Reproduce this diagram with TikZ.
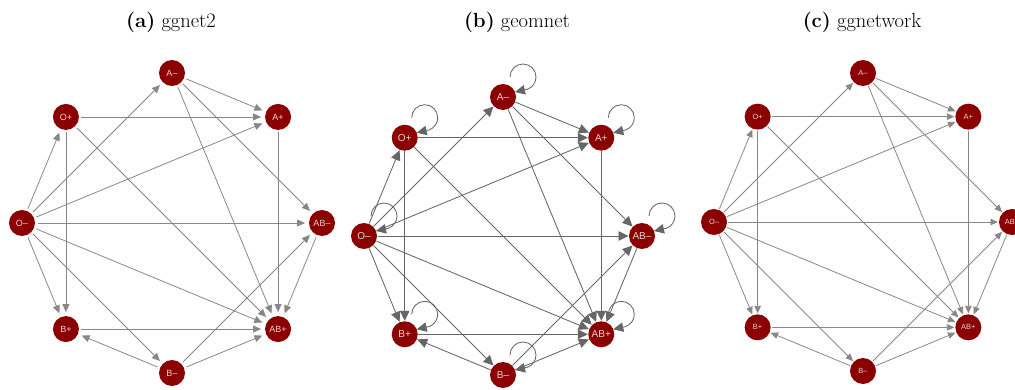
\documentclass[tikz,border=0pt]{standalone}
\usepackage{fontspec}
\newfontfamily\lsans{Liberation Sans}
\usetikzlibrary{arrows.meta,calc}
\definecolor{nodered}{RGB}{139,0,0}
\definecolor{labelc}{RGB}{235,212,212}
\definecolor{edgea}{RGB}{135,135,135}
\definecolor{edgeb}{RGB}{102,102,102}
\tikzset{
  bnode/.style={circle, fill=nodered, minimum size=26pt, inner sep=0pt, text=labelc},
  nodea/.style={bnode, outer sep=2.5pt, font=\lsans\fontsize{9}{9}\selectfont},
  nodeb/.style={bnode, outer sep=0.5pt, font=\lsans\fontsize{10}{10}\selectfont},
  nodec/.style={bnode, outer sep=1pt, font=\lsans\fontsize{7.5}{7.5}\selectfont},
  edgeastyle/.style={draw=edgea, line width=0.8pt, -{Triangle[length=8pt,width=7pt]}, shorten >=1.5pt},
  edgebstyle/.style={draw=edgeb, line width=0.85pt, -{Triangle[length=10pt,width=9.5pt]}},
  edgecstyle/.style={draw=edgea, line width=0.8pt, -{Triangle[length=7.5pt,width=6.5pt]}},
  loopbstyle/.style={draw=edgeb, line width=0.85pt, -{Triangle[length=10pt,width=9.5pt]}},
  titlestyle/.style={anchor=base, inner sep=0pt, font=\fontsize{20.5}{24}\selectfont},
}
% prefix, cx, cy, r, node style
\newcommand\bloodnodes[5]{%
  \foreach \n/\a/\t in {Am/90/A–, Ap/45/A+, ABm/0/AB–, ABp/-45/AB+, Bm/-90/B–, Bp/-135/B+, Om/180/O–, Op/135/O+}{
    \node[#5] (#1\n) at ({#2+#4*cos(\a)},{#3-#4*sin(\a)}) {\t};
  }}
% prefix, edge style
\newcommand\bloodedges[2]{%
  \foreach \s/\d in {Om/Op, Om/Am, Om/Ap, Om/ABm, Om/ABp, Om/Bp, Om/Bm,
                     Op/Ap, Op/Bp, Op/ABp,
                     Am/Ap, Am/ABm, Am/ABp,
                     Ap/ABp,
                     Bm/Bp, Bm/ABm, Bm/ABp,
                     Bp/ABp, ABm/ABp}{
    \draw[#2] (#1\s) -- (#1\d);
  }}
\begin{document}
\begin{tikzpicture}[x=1pt,y=-1pt]
\useasboundingbox (0,0) rectangle (1015,390);
\clip (0,0) rectangle (1015,390);
% titles
\node[titlestyle] (ta) at (171,28) {{\bfseries (a)} ggnet2};
\node[titlestyle] (tb) at (517,28) {{\bfseries (b)} geomnet};
\node[titlestyle] (tc) at (862,28) {{\bfseries (c)} ggnetwork};
% panel (a)
\bloodnodes{a}{172}{223}{150}{nodea}
\bloodedges{a}{edgeastyle}
% panel (b)
\bloodnodes{b}{503}{236}{139}{nodeb}
\bloodedges{b}{edgebstyle}
\foreach \n in {Am,Ap,ABm,ABp,Bm,Bp,Om,Op}{
  \draw[loopbstyle] ([shift={(7,-20)}]b\n.center) arc[start angle=180, end angle=-70, radius=13pt]
     -- ([shift={(12,-5)}]b\n.center);
}
% panel (c)
\bloodnodes{c}{863}{222}{149}{nodec}
\bloodedges{c}{edgecstyle}
\end{tikzpicture}
\end{document}
